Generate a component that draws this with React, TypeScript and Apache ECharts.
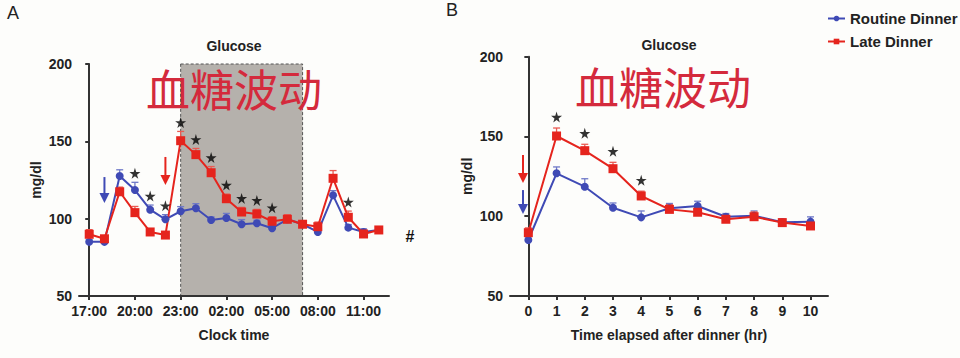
import React, { useEffect, useRef } from 'react';
import * as echarts from 'echarts';

// ---------- data ----------
const clockTimes = ['17:00', '18:00', '19:00', '20:00', '21:00', '22:00', '23:00', '00:00', '01:00', '02:00',
  '03:00', '04:00', '05:00', '06:00', '07:00', '08:00', '09:00', '10:00', '11:00', '12:00'];
const clockTickLabels = ['17:00', '20:00', '23:00', '02:00', '05:00', '08:00', '11:00'];
const routineClock = [85, 85, 127.6, 118.5, 105.8, 99.6, 104.8, 106.7, 99.1, 100.4, 96.4, 97.0, 93.8, 99.6, 96.4, 91.4, 115.1, 94.2, 91.4, 92.7];
const routineClockErr = [1.5, 1.5, 4, 5, 3, 3, 3, 3, 2, 3, 3, 2, 2, 3, 2, 2, 3, 2, 2, 2];
const lateClock = [89.9, 87, 117.4, 103.9, 91.4, 89.4, 150.4, 141.4, 129.7, 112.9, 104.3, 103.0, 98.3, 99.6, 96.4, 94.8, 126.1, 100.9, 90.1, 92.7];
const lateClockErr = [3, 2, 3, 4, 2, 2, 6, 4, 4, 3, 3, 3, 3, 3, 2, 3, 5, 4, 2, 2];
const clockStars = ['20:00', '21:00', '22:00', '23:00', '00:00', '01:00', '02:00', '03:00', '04:00', '05:00', '10:00'];
const sleepStart = '23:00';
const sleepEnd = '07:00';

const elapsedHours = ['0', '1', '2', '3', '4', '5', '6', '7', '8', '9', '10'];
const routineElapsed = [85.1, 126.9, 118.5, 105.3, 99.3, 105.0, 106.4, 99.7, 100.3, 96.2, 96.6];
const routineElapsedErr = [2, 4, 5, 3, 4, 3, 3, 2, 3, 2, 3];
const lateElapsed = [89.7, 150.3, 141.1, 129.8, 112.7, 104.3, 102.5, 98.1, 99.7, 96.0, 93.9];
const lateElapsedErr = [3, 5, 4, 4, 3, 3, 3, 2, 3, 2, 2];
const elapsedStars = ['1', '2', '3', '4'];

// dinner arrows: [x position (hours), top value, bottom value]
const clockArrows = { routine: [1, 126.9, 110.1], late: [5, 139.9, 121.8] };
const elapsedArrows = { late: [-0.19, 138.4, 120.8], routine: [-0.19, 116.4, 101.4] };

const yTicks = [50, 100, 150, 200];

// ---------- styles ----------
const BLUE = '#3f4ab5';
const RED = '#e5241d';
const INK = '#222';
const FONT = '"Liberation Sans", Arial, Helvetica, sans-serif';
const CJK = '"Noto Sans CJK SC", sans-serif';

const STAR = 'path://M50,0 L61,35 L98,35 L68,57 L79,91 L50,70 L21,91 L32,57 L2,35 L39,35 Z';

function errorSeries(axis: number, values: number[], errs: number[], color: string) {
  return {
    type: 'custom',
    xAxisIndex: axis,
    yAxisIndex: axis,
    z: 2,
    silent: true,
    data: values.map((v, i) => [i, v, v + errs[i]]),
    encode: { x: 0, y: [1, 2] },
    renderItem: (_p: any, api: any) => {
      const base = api.coord([api.value(0), api.value(1)]);
      const top = api.coord([api.value(0), api.value(2)]);
      const st = { stroke: color, lineWidth: 1.3 };
      return {
        type: 'group',
        children: [
          { type: 'line', shape: { x1: base[0], y1: base[1], x2: top[0], y2: top[1] }, style: st },
          { type: 'line', shape: { x1: top[0] - 3.5, y1: top[1], x2: top[0] + 3.5, y2: top[1] }, style: st },
        ],
      };
    },
  };
}

function arrowSeries(axis: number, arrows: { x: number; top: number; bottom: number; color: string }[]) {
  return {
    type: 'custom',
    xAxisIndex: axis,
    yAxisIndex: axis,
    z: 3,
    silent: true,
    data: arrows.map((a) => [a.x, a.top, a.bottom]),
    encode: { x: 0, y: [1, 2] },
    renderItem: (p: any, api: any) => {
      const color = arrows[p.dataIndex].color;
      const t = api.coord([api.value(0), api.value(1)]);
      const b = api.coord([api.value(0), api.value(2)]);
      const head = 10;
      return {
        type: 'group',
        children: [
          { type: 'line', shape: { x1: t[0], y1: t[1], x2: b[0], y2: b[1] - head + 1 }, style: { stroke: color, lineWidth: 2 } },
          { type: 'polygon', shape: { points: [[b[0] - 5, b[1] - head], [b[0] + 5, b[1] - head], [b[0], b[1]]] }, style: { fill: color } },
        ],
      };
    },
  };
}

function shadeSeries(axis: number, from: number, to: number) {
  return {
    type: 'custom',
    xAxisIndex: axis,
    yAxisIndex: axis,
    z: 0,
    silent: true,
    data: [[from, to]],
    encode: { x: [0, 1] },
    renderItem: (_p: any, api: any) => {
      const a = api.coord([api.value(0), 200]);
      const b = api.coord([api.value(1), 50]);
      return {
        type: 'rect',
        shape: { x: a[0], y: a[1], width: b[0] - a[0], height: b[1] - a[1] },
        style: { fill: '#b5b1ac', stroke: '#555', lineWidth: 1, lineDash: [3, 2] },
      };
    },
  };
}

function starSeries(axis: number, idx: number[], r: number[], re: number[], l: number[], le: number[], offset: number) {
  return {
    type: 'scatter',
    xAxisIndex: axis,
    yAxisIndex: axis,
    z: 4,
    silent: true,
    symbol: STAR,
    symbolSize: 11,
    symbolOffset: [0, -offset],
    itemStyle: { color: '#000' },
    data: idx.map((i) => [i, Math.max(r[i] + re[i], l[i] + le[i])]),
  };
}

function lineSeries(axis: number, name: string, data: number[], color: string, symbol: string, size: number) {
  return {
    type: 'line',
    name,
    xAxisIndex: axis,
    yAxisIndex: axis,
    z: 3,
    data: data.map((v, i) => [i, v]),
    symbol,
    symbolSize: size,
    showAllSymbol: true,
    itemStyle: { color },
    lineStyle: { color, width: 2 },
  };
}

const axisLine = { show: true, lineStyle: { color: '#333', width: 2 } };
const axisTick = { show: true, length: 4, lineStyle: { color: '#333', width: 2 } };
const labelStyle = { color: INK, fontFamily: FONT, fontWeight: 'bold' as const, fontSize: 14 };
const nameStyle = { color: INK, fontFamily: FONT, fontWeight: 'bold' as const, fontSize: 14 };

function yAxis(grid: number) {
  return {
    type: 'value',
    gridIndex: grid,
    min: 50,
    max: 200,
    interval: 50,
    name: 'mg/dl',
    nameLocation: 'middle',
    nameRotate: 90,
    nameGap: 36,
    nameTextStyle: nameStyle,
    axisLine,
    axisTick: { ...axisTick, customValues: yTicks },
    axisLabel: { ...labelStyle, margin: 7, customValues: yTicks },
    splitLine: { show: false },
  };
}

const clockIdx = (t: string) => clockTimes.indexOf(t);
const clockTickVals = clockTickLabels.map(clockIdx);
const elapsedTickVals = elapsedHours.map((h) => Number(h));

const option: any = {
  animation: false,
  backgroundColor: '#fdfdfb',
  legend: {
    orient: 'vertical',
    left: 822,
    top: 6,
    itemGap: 8,
    itemWidth: 17,
    itemHeight: 7,
    data: ['Routine Dinner', 'Late Dinner'],
    textStyle: { color: INK, fontFamily: FONT, fontWeight: 'bold', fontSize: 15 },
  },
  grid: [
    { left: 79, top: 64, width: 310, height: 232 },
    { left: 510, top: 56.7, width: 318, height: 239.3 },
  ],
  xAxis: [
    {
      type: 'value',
      gridIndex: 0,
      min: -0.67,
      max: 19.67,
      name: 'Clock time',
      nameLocation: 'middle',
      nameGap: 32,
      nameTextStyle: nameStyle,
      axisLine,
      axisTick: { ...axisTick, customValues: clockTickVals },
      axisLabel: { ...labelStyle, margin: 8, customValues: clockTickVals, formatter: (v: number) => clockTimes[Math.round(v)] },
      splitLine: { show: false },
    },
    {
      type: 'value',
      gridIndex: 1,
      min: -0.65,
      max: 10.62,
      name: 'Time elapsed after dinner (hr)',
      nameLocation: 'middle',
      nameGap: 32,
      nameTextStyle: nameStyle,
      axisLine,
      axisTick: { ...axisTick, customValues: elapsedTickVals },
      axisLabel: { ...labelStyle, margin: 8, customValues: elapsedTickVals, formatter: (v: number) => elapsedHours[Math.round(v)] },
      splitLine: { show: false },
    },
  ],
  yAxis: [yAxis(0), yAxis(1)],
  series: [
    shadeSeries(0, clockIdx(sleepStart), clockIdx(sleepEnd)),
    errorSeries(0, routineClock, routineClockErr, '#6f79c8'),
    errorSeries(0, lateClock, lateClockErr, '#ea5a52'),
    lineSeries(0, 'Routine Dinner', routineClock, BLUE, 'circle', 8),
    lineSeries(0, 'Late Dinner', lateClock, RED, 'rect', 9),
    starSeries(0, clockStars.map(clockIdx), routineClock, routineClockErr, lateClock, lateClockErr, 9),
    arrowSeries(0, [
      { x: clockArrows.routine[0], top: clockArrows.routine[1], bottom: clockArrows.routine[2], color: BLUE },
      { x: clockArrows.late[0], top: clockArrows.late[1], bottom: clockArrows.late[2], color: RED },
    ]),
    errorSeries(1, routineElapsed, routineElapsedErr, '#6f79c8'),
    errorSeries(1, lateElapsed, lateElapsedErr, '#ea5a52'),
    lineSeries(1, 'Routine Dinner', routineElapsed, BLUE, 'circle', 8),
    lineSeries(1, 'Late Dinner', lateElapsed, RED, 'rect', 9),
    starSeries(1, elapsedStars.map((h) => elapsedHours.indexOf(h)), routineElapsed, routineElapsedErr, lateElapsed, lateElapsedErr, 11),
    arrowSeries(1, [
      { x: elapsedArrows.late[0], top: elapsedArrows.late[1], bottom: elapsedArrows.late[2], color: RED },
      { x: elapsedArrows.routine[0], top: elapsedArrows.routine[1], bottom: elapsedArrows.routine[2], color: BLUE },
    ]),
  ],
  graphic: [
    { type: 'text', left: 7, top: 4, z: 10, style: { text: 'A', font: `18px ${FONT}`, fill: INK } },
    { type: 'text', left: 446, top: 1, z: 10, style: { text: 'B', font: `18px ${FONT}`, fill: INK } },
    { type: 'text', x: 234, y: 46, z: 10, style: { text: 'Glucose', font: `bold 14px ${FONT}`, fill: INK, align: 'center', verticalAlign: 'middle' } },
    { type: 'text', x: 669, y: 45, z: 10, style: { text: 'Glucose', font: `bold 14px ${FONT}`, fill: INK, align: 'center', verticalAlign: 'middle' } },
    { type: 'text', x: 410, y: 236, z: 10, style: { text: '#', font: `bold 16px ${FONT}`, fill: '#111', align: 'center', verticalAlign: 'middle' } },
    { type: 'text', x: 234, y: 88, z: 20, style: { text: '血糖波动', font: `44px ${CJK}`, fill: '#d42a3c', align: 'center', verticalAlign: 'middle' } },
    { type: 'text', x: 663, y: 86, z: 20, style: { text: '血糖波动', font: `44px ${CJK}`, fill: '#d42a3c', align: 'center', verticalAlign: 'middle' } },
  ],
};

export default function App() {
  const ref = useRef<HTMLDivElement>(null);
  useEffect(() => {
    document.body.style.margin = '0';
    const chart = echarts.init(ref.current as HTMLDivElement, null, { renderer: 'svg' });
    chart.setOption(option);
    return () => chart.dispose();
  }, []);
  return <div ref={ref} style={{ width: 960, height: 358 }} />;
}
